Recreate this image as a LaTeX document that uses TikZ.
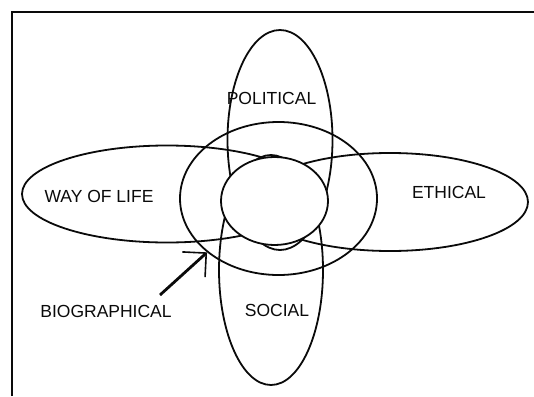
\documentclass[tikz,border=0pt]{standalone}
\usepackage{fontspec}
\setmainfont{Liberation Sans}
\usepackage{tikz}
\usetikzlibrary{arrows.meta,positioning,shapes.geometric}
\definecolor{ink}{RGB}{10,10,10}
\tikzset{
  petal/.style   = {ellipse, draw=ink, line width=1.8pt, inner sep=0pt},
  tag/.style     = {text=ink, inner sep=0pt, anchor=base,
                    font=\fontsize{17.5}{20}\selectfont},
  pointer/.style = {-{Straight Barb[angle=90:24pt, line width=1.6pt]},
                    draw=ink, line width=2.8pt},
}

\begin{document}
\begin{tikzpicture}[x=1pt, y=-1pt]
\useasboundingbox (0,0) rectangle (534,396);
% frame (cut at right and bottom)
\draw[ink, line width=2pt] (12,396) -- (12,12) -- (534,12);

% four petals
\node[petal, minimum width=105pt, minimum height=220pt] (political) at (280,140) {};
\node[petal, minimum width=104pt, minimum height=230pt] (social) at (271,270) {};
\node[petal, minimum width=290pt, minimum height=97pt] (wayoflife) at (167,194) {};
\node[petal, minimum width=276pt, minimum height=98pt] (ethical) at (390,202) {};

% outer ring and core
\node[petal, minimum width=197pt, minimum height=153pt] (outer) at (278.5,198.5) {};
\node[petal, fill=white, minimum width=107pt, minimum height=88pt] (core) at (274.5,201) {};

% labels
\node[tag] (lpol) at (271.5,104) {POLITICAL};
\node[tag] (lway) at (99,202) {WAY OF LIFE};
\node[tag] (leth) at (449,198) {ETHICAL};
\node[tag] (lsoc) at (277,316.5) {SOCIAL};
\node[tag] (lbio) at (106,317) {BIOGRAPHICAL};

\coordinate (biotail) at (160,295);
\draw[pointer] (biotail) -- (outer.217.7);
\end{tikzpicture}
\end{document}
